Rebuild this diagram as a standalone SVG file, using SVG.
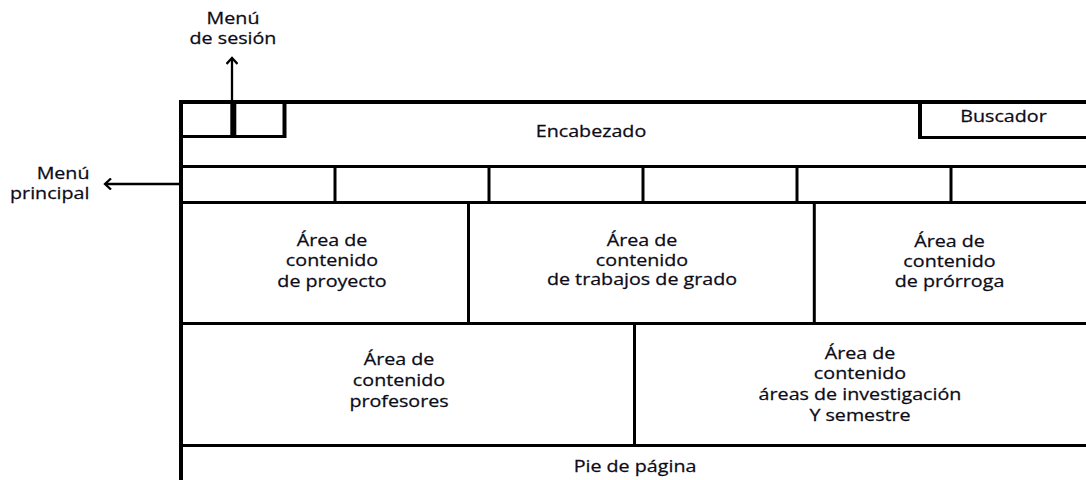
<svg xmlns="http://www.w3.org/2000/svg" width="1086" height="480" viewBox="0 0 1086 480">
<style>
.t{font-family:"Open Sans","Noto Sans",sans-serif;font-size:15.5px;fill:#0c0c18;stroke:#0c0c18;stroke-width:0.25;text-anchor:middle}
.te{font-family:"Open Sans","Noto Sans",sans-serif;font-size:15.5px;fill:#0c0c18;stroke:#0c0c18;stroke-width:0.25;text-anchor:end}
.ln{stroke:#000;stroke-width:3;fill:none}
.lb{stroke:#000;stroke-width:4;fill:none}
.ar{stroke:#000;stroke-width:2.3;fill:none}
</style>
<defs>
<marker id="ah" markerWidth="12" markerHeight="12" refX="9" refY="6" orient="auto" markerUnits="userSpaceOnUse">
<path d="M3,0.5 L9,6 L3,11.5" fill="none" stroke="#000" stroke-width="2.3"/>
</marker>
</defs>
<rect width="1086" height="480" fill="#fff"/>
<g id="frame">
<line class="lb" x1="181" y1="100" x2="181" y2="480"/>
<line class="lb" x1="179" y1="102" x2="1086" y2="102"/>
<line class="ln" x1="181" y1="166.5" x2="1086" y2="166.5"/>
<line class="ln" x1="181" y1="202.5" x2="1086" y2="202.5"/>
<line class="ln" x1="181" y1="323.5" x2="1086" y2="323.5"/>
<line class="ln" x1="181" y1="445.5" x2="1086" y2="445.5"/>
</g>
<g id="sesion">
<line class="ln" x1="181" y1="136.5" x2="286" y2="136.5"/>
<line class="lb" x1="284.5" y1="102" x2="284.5" y2="138"/>
<line stroke="#000" stroke-width="6" x1="233.3" y1="102" x2="233.3" y2="137"/>
</g>
<g id="encabezado">
<text class="t" transform="translate(591 137) scale(1.27 1)">Encabezado</text>
</g>
<g id="buscador">
<line class="lb" x1="920" y1="102" x2="920" y2="139"/>
<line class="ln" x1="918" y1="137.5" x2="1086" y2="137.5"/>
<text class="t" transform="translate(1003.5 122) scale(1.27 1)">Buscador</text>
</g>
<g id="menu-principal-barra">
<line class="ln" x1="335" y1="166" x2="335" y2="203"/>
<line class="ln" x1="489" y1="166" x2="489" y2="203"/>
<line class="ln" x1="643" y1="166" x2="643" y2="203"/>
<line class="ln" x1="797" y1="166" x2="797" y2="203"/>
<line class="ln" x1="951" y1="166" x2="951" y2="203"/>
</g>
<g id="area-proyecto">
<text class="t" transform="translate(332 246) scale(1.27 1)"><tspan x="0">Área de</tspan><tspan x="0" dy="20.5">contenido</tspan><tspan x="0" dy="20.5">de proyecto</tspan></text>
</g>
<g id="area-trabajos">
<line class="ln" x1="468.5" y1="202" x2="468.5" y2="324"/>
<text class="t" transform="translate(642 246) scale(1.27 1)"><tspan x="0">Área de</tspan><tspan x="0" dy="20">contenido</tspan><tspan x="0" dy="19.5">de trabajos de grado</tspan></text>
</g>
<g id="area-prorroga">
<line class="ln" x1="814.3" y1="202" x2="814.3" y2="324"/>
<text class="t" transform="translate(949.5 246.5) scale(1.27 1)"><tspan x="0">Área de</tspan><tspan x="0" dy="20.5">contenido</tspan><tspan x="0" dy="20.5">de prórroga</tspan></text>
</g>
<g id="area-profesores">
<text class="t" transform="translate(399 365) scale(1.27 1)"><tspan x="0">Área de</tspan><tspan x="0" dy="21">contenido</tspan><tspan x="0" dy="21">profesores</tspan></text>
</g>
<g id="area-investigacion">
<line class="ln" x1="634.5" y1="323" x2="634.5" y2="446"/>
<text class="t" transform="translate(860 358.5) scale(1.27 1)"><tspan x="0">Área de</tspan><tspan x="0" dy="21">contenido</tspan><tspan x="0" dy="21">áreas de investigación</tspan><tspan x="0" dy="21">Y semestre</tspan></text>
</g>
<g id="pie">
<text class="t" transform="translate(635 471.5) scale(1.27 1)">Pie de página</text>
</g>
<g id="label-sesion">
<text class="t" transform="translate(233 23.5) scale(1.27 1)"><tspan x="0">Menú</tspan><tspan x="0" dy="20.5">de sesión</tspan></text>
</g>
<g id="label-principal">
<text class="te" transform="translate(89.5 179) scale(1.27 1)"><tspan x="0">Menú</tspan><tspan x="0" dy="20.5">principal</tspan></text>
</g>
<g id="connectors">
<line class="ar" x1="232" y1="102" x2="232" y2="58" marker-end="url(#ah)"/>
<line class="ar" x1="181" y1="184" x2="105" y2="184" marker-end="url(#ah)"/>
</g>
</svg>
